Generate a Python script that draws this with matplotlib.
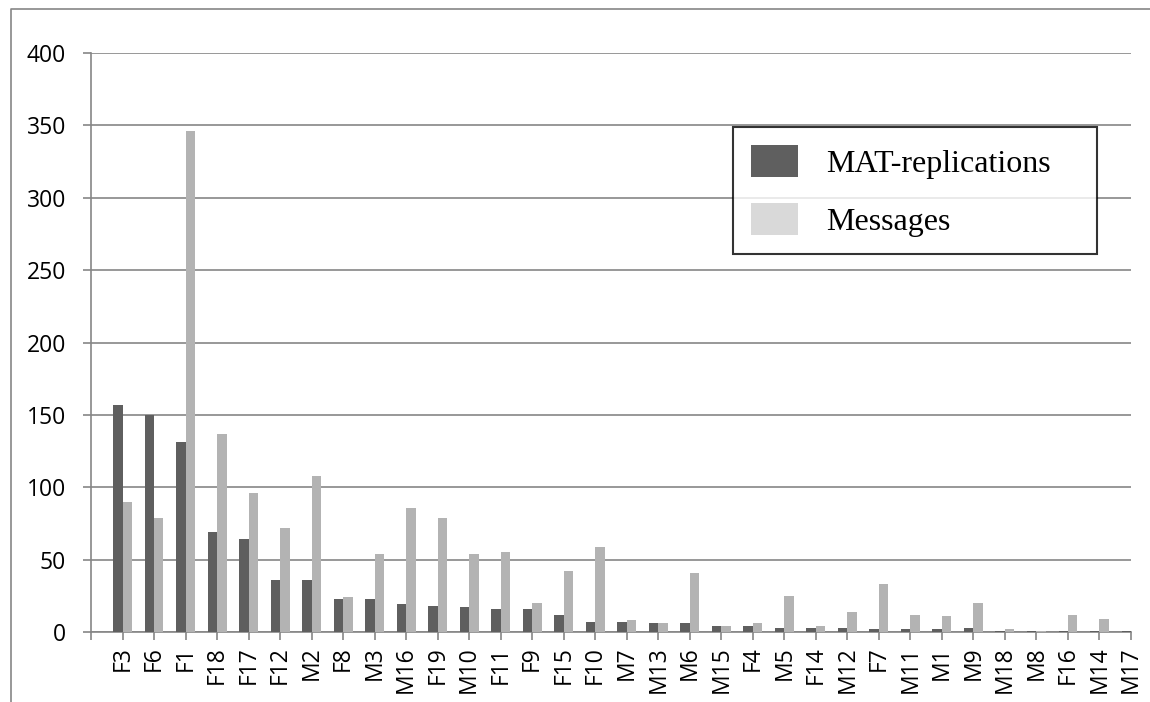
import matplotlib.pyplot as plt
from matplotlib.patches import Patch
from matplotlib.lines import Line2D
import numpy as np

plt.rcParams['font.family'] = 'Open Sans'

participants = ['F3', 'F6', 'F1', 'F18', 'F17', 'F12', 'M2', 'F8', 'M3', 'M16',
                'F19', 'M10', 'F11', 'F9', 'F15', 'F10', 'M7', 'M13', 'M6', 'M15',
                'F4', 'M5', 'F14', 'M12', 'F7', 'M11', 'M1', 'M9', 'M18', 'M8',
                'F16', 'M14', 'M17']
mat_replications = [157, 150, 131, 69, 64, 36, 36, 23, 23, 19,
                    18, 17, 16, 16, 12, 7, 7, 6, 6, 4,
                    4, 3, 3, 3, 2, 2, 2, 3, 1, 1,
                    1, 1, 1]
messages = [90, 79, 346, 137, 96, 72, 108, 24, 54, 86,
            79, 54, 55, 20, 42, 59, 8, 6, 41, 4,
            6, 25, 4, 14, 33, 12, 11, 20, 2, 1,
            12, 9, 7]

W, H = 1150, 702
fig = plt.figure(figsize=(W / 100, H / 100), dpi=100)
ax = fig.add_axes([91 / W, 1 - 632 / H, 1040 / W, 579 / H])

grey = '#868686'
dark = '#5f5f5f'
light = '#b3b3b3'

x = np.arange(1, len(participants) + 1)
bw = 0.3
ax.bar(x - bw / 2, mat_replications, bw, color=dark, zorder=3)
ax.bar(x + bw / 2, messages, bw, color=light, zorder=3)

ax.set_xlim(0, len(participants))
ax.set_ylim(0, 400)
ax.set_yticks(range(0, 401, 50))
ax.set_xticks(range(0, len(participants) + 1))
ax.set_xticklabels([''] + participants, rotation=90)

ax.grid(axis='y', color=grey, linewidth=1.2, zorder=0)
for side in ['top', 'right']:
    ax.spines[side].set_visible(False)
for side in ['left', 'bottom']:
    ax.spines[side].set_color(grey)
    ax.spines[side].set_linewidth(1.2)
ax.tick_params(axis='both', direction='out', length=6, width=1.2, color=grey,
               labelsize=16.5, labelcolor='black')
ax.tick_params(axis='y', pad=12)
ax.tick_params(axis='x', pad=4)

# legend swatches are drawn a little lighter than the bars
handles = [Patch(facecolor=dark, edgecolor='none', label='MAT-replications'),
           Patch(facecolor='#d9d9d9', edgecolor='none', label='Messages')]
leg = ax.legend(handles=handles, loc='upper left', mode='expand',
                bbox_to_anchor=(733 / W, 1 - 127 / H - 0.01, 364 / W, 0.01),
                bbox_transform=fig.transFigure,
                prop={'family': 'Liberation Serif', 'size': 23},
                frameon=True, fancybox=False, edgecolor='black',
                handlelength=1.5, handleheight=1.2, handletextpad=0.85,
                labelspacing=0.75, borderpad=0.55, borderaxespad=0)
leg.get_frame().set_linewidth(1.5)

# outer chart border (runs off the right and bottom edges)
fig.add_artist(Line2D([11 / W, 11 / W, 1.01], [-0.01, 1 - 8.5 / H, 1 - 8.5 / H],
                      transform=fig.transFigure, color=grey, linewidth=1.2))

fig.savefig('out.png', dpi=100)
